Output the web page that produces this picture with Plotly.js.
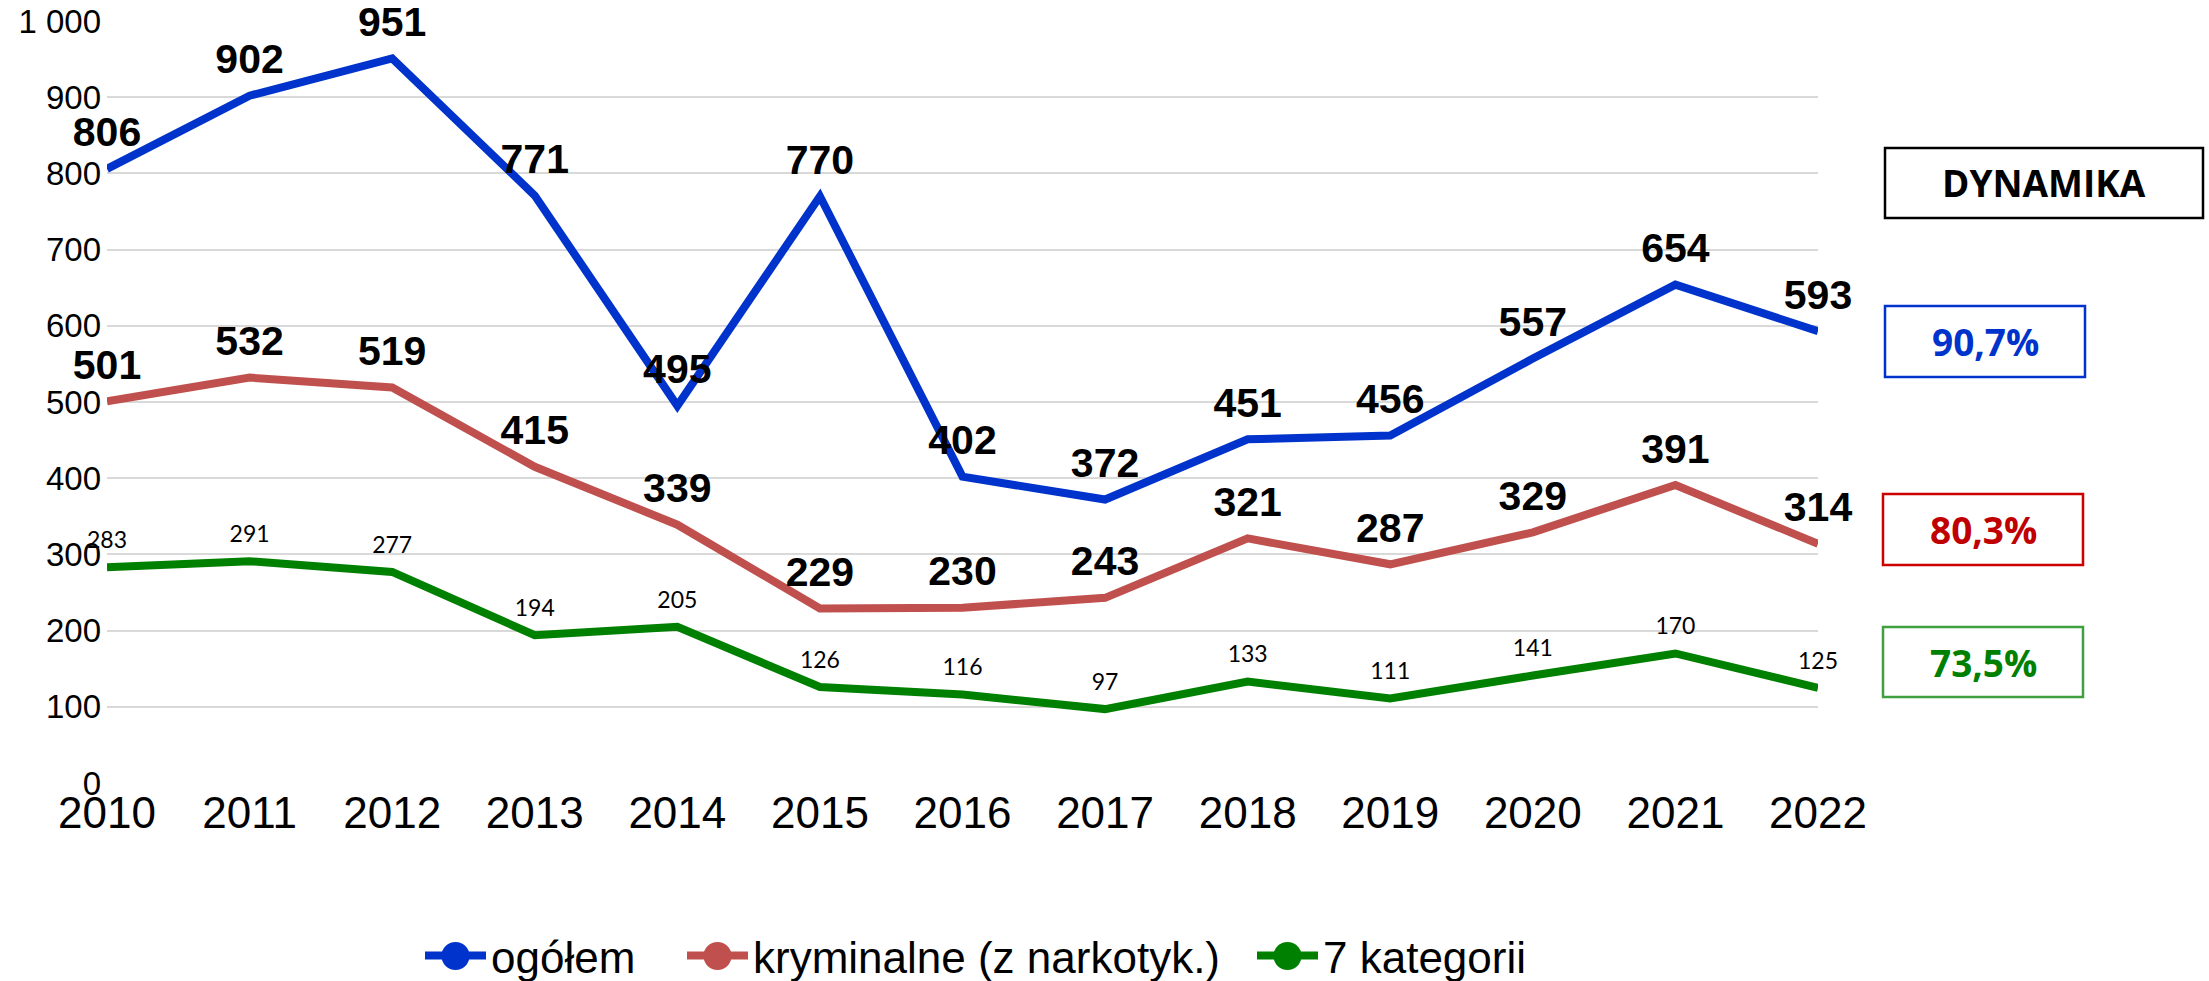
<!DOCTYPE html>
<html>
<head>
<meta charset="utf-8">
<script src="https://cdn.plot.ly/plotly-3.0.1.min.js"></script>
<style>html,body{margin:0;padding:0;background:#fff;}#chart{width:2209px;height:981px;}</style>
</head>
<body>
<div id="chart"></div>
<script>
const years = [2010, 2011, 2012, 2013, 2014, 2015, 2016, 2017, 2018, 2019, 2020, 2021, 2022];
const ogolem = [806, 902, 951, 771, 495, 770, 402, 372, 451, 456, 557, 654, 593];
const kryminalne = [501, 532, 519, 415, 339, 229, 230, 243, 321, 287, 329, 391, 314];
const kategorii7 = [283, 291, 277, 194, 205, 126, 116, 97, 133, 111, 141, 170, 125];
const seriesNames = ['ogółem', 'kryminalne (z narkotyk.)', '7 kategorii'];
const dynamikaTitle = 'DYNAMIKA';
const dynamikaValues = ['90,7%', '80,3%', '73,5%'];

const W = 2209, H = 981;
const L = 107, R = 1818, T = 21, B = 783;
const px = x => (x - L) / (R - L);
const py = y => (B - y) / (B - T);

const lineColors = ['#0033cc', '#c0504d', '#008000'];
const boxBorder = ['#0033cc', '#cc0000', '#40a040'];
const boxText = ['#0033cc', '#c00000', '#008000'];
const seriesData = [ogolem, kryminalne, kategorii7];

const boldFont = {family: 'Liberation Sans, Arial, sans-serif', size: 41, color: '#000', weight: 'bold'};
const smallFont = {family: 'Lato, sans-serif', size: 23, color: '#000'};

const legendIds = ['legend', 'legend2', 'legend3'];
const legendSymbolStart = [425, 687, 1257];
const ITEMW = 61, LEG_Y = 956;

const traces = [];
seriesData.forEach((vals, i) => {
  traces.push({
    x: years, y: vals, type: 'scatter', mode: 'lines+markers+text',
    name: seriesNames[i], showlegend: false, hoverinfo: 'skip',
    line: {color: lineColors[i], width: 8, shape: 'linear'},
    marker: {size: i < 2 ? 18 : 20, opacity: 0, color: lineColors[i]},
    text: vals.map(v => String(v)), textposition: 'top center',
    textfont: i < 2 ? boldFont : smallFont, cliponaxis: false
  });
});
seriesData.forEach((vals, i) => {
  traces.push({
    x: [null], y: [null], type: 'scatter', mode: 'lines+markers',
    name: seriesNames[i], showlegend: true, hoverinfo: 'skip', legend: legendIds[i],
    line: {color: lineColors[i], width: 8},
    marker: {size: 16, color: lineColors[i], symbol: 'circle'}
  });
});

const boxes = [
  {x0: 1885, x1: 2203, y0: 148, y1: 218, border: '#000', text: dynamikaTitle, color: '#000'},
  {x0: 1885, x1: 2085, y0: 306, y1: 377, border: boxBorder[0], text: dynamikaValues[0], color: boxText[0]},
  {x0: 1883, x1: 2083, y0: 494, y1: 565, border: boxBorder[1], text: dynamikaValues[1], color: boxText[1]},
  {x0: 1883, x1: 2083, y0: 627, y1: 697, border: boxBorder[2], text: dynamikaValues[2], color: boxText[2]}
];
const shapes = boxes.map(b => ({
  type: 'rect', xref: 'paper', yref: 'paper',
  x0: px(b.x0), x1: px(b.x1), y0: py(b.y1), y1: py(b.y0),
  line: {color: b.border, width: 2.5}, fillcolor: '#fff'
}));
const annotations = boxes.map(b => ({
  xref: 'paper', yref: 'paper', x: px((b.x0 + b.x1) / 2), y: py((b.y0 + b.y1) / 2),
  xanchor: 'center', yanchor: 'middle', showarrow: false, text: b.text,
  font: {family: 'Open Sans, sans-serif', size: 37, color: b.color, weight: 'bold'}
}));

// larger round legend markers, centred on the legend symbols
legendSymbolStart.forEach((s, i) => {
  const cx = s + ITEMW / 2, r = 14;
  shapes.push({
    type: 'circle', xref: 'paper', yref: 'paper',
    x0: px(cx - r), x1: px(cx + r), y0: py(LEG_Y + r), y1: py(LEG_Y - r),
    line: {width: 0}, fillcolor: lineColors[i]
  });
});

const legendBase = {
  orientation: 'h', xanchor: 'left', y: py(LEG_Y), yanchor: 'middle',
  font: {family: 'Liberation Sans, Arial, sans-serif', size: 44, color: '#000'},
  itemwidth: ITEMW, bgcolor: 'rgba(0,0,0,0)', borderwidth: 0
};

const layout = {
  width: W, height: H,
  margin: {l: L, r: W - R, t: T, b: H - B, pad: 0, autoexpand: false},
  paper_bgcolor: '#fff', plot_bgcolor: '#fff',
  separators: ', ',
  showlegend: true,
  xaxis: {
    type: 'linear', range: [2010, 2022], tickmode: 'linear', tick0: 2010, dtick: 1,
    showgrid: false, zeroline: false, showline: false, ticks: '',
    tickfont: {family: 'Liberation Sans, Arial, sans-serif', size: 44, color: '#000'},
    fixedrange: true
  },
  yaxis: {
    range: [0, 1000], tickmode: 'linear', tick0: 0, dtick: 100,
    separatethousands: true, ticklabelstandoff: 5,
    showgrid: true, gridcolor: '#d9d9d9', gridwidth: 2,
    zeroline: false, showline: false, ticks: '',
    tickfont: {family: 'Liberation Sans, Arial, sans-serif', size: 33, color: '#000'},
    fixedrange: true
  },
  legend: Object.assign({}, legendBase, {x: px(legendSymbolStart[0] - 5)}),
  legend2: Object.assign({}, legendBase, {x: px(legendSymbolStart[1] - 5)}),
  legend3: Object.assign({}, legendBase, {x: px(legendSymbolStart[2] - 5)}),
  shapes: shapes,
  annotations: annotations
};

Plotly.newPlot('chart', traces, layout, {displayModeBar: false, staticPlot: true});
</script>
</body>
</html>
